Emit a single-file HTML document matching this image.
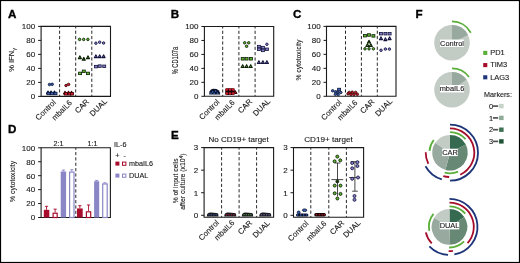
<!DOCTYPE html>
<html><head><meta charset="utf-8"><style>
html,body{margin:0;padding:0;background:#fff;}
body{width:520px;height:263px;overflow:hidden;}
svg{display:block;will-change:transform;}
svg text{font-family:"Liberation Sans", sans-serif;}
</style></head><body>
<svg width="520" height="263" viewBox="0 0 520 263">
<rect x="0" y="0" width="520" height="263" fill="#fff"/>
<text x="8.00" y="18.00" font-size="11.6" text-anchor="start" font-weight="bold" fill="#000" stroke="#000" stroke-width="0.35">A</text>
<path d="M41.1 26.4H110.5V96.4H41.1Z" fill="none" stroke="#1a1a1a" stroke-width="1.1"/>
<line x1="59.6" y1="26.4" x2="59.6" y2="96.4" stroke="#2a2a2a" stroke-width="1" stroke-dasharray="3.2 2.14" stroke-dashoffset="1.14"/>
<line x1="75.7" y1="26.4" x2="75.7" y2="96.4" stroke="#2a2a2a" stroke-width="1" stroke-dasharray="3.2 2.14" stroke-dashoffset="1.14"/>
<line x1="91.8" y1="26.4" x2="91.8" y2="96.4" stroke="#2a2a2a" stroke-width="1" stroke-dasharray="3.2 2.14" stroke-dashoffset="1.14"/>
<line x1="38.1" y1="96.40" x2="41.1" y2="96.40" stroke="#1a1a1a" stroke-width="1"/>
<text x="35.20" y="99.25" font-size="8" text-anchor="end" font-weight="normal" fill="#1a1a1a" stroke="#1a1a1a" stroke-width="0.12">0</text>
<line x1="38.1" y1="82.40" x2="41.1" y2="82.40" stroke="#1a1a1a" stroke-width="1"/>
<text x="35.20" y="85.25" font-size="8" text-anchor="end" font-weight="normal" fill="#1a1a1a" stroke="#1a1a1a" stroke-width="0.12">20</text>
<line x1="38.1" y1="68.40" x2="41.1" y2="68.40" stroke="#1a1a1a" stroke-width="1"/>
<text x="35.20" y="71.25" font-size="8" text-anchor="end" font-weight="normal" fill="#1a1a1a" stroke="#1a1a1a" stroke-width="0.12">40</text>
<line x1="38.1" y1="54.40" x2="41.1" y2="54.40" stroke="#1a1a1a" stroke-width="1"/>
<text x="35.20" y="57.25" font-size="8" text-anchor="end" font-weight="normal" fill="#1a1a1a" stroke="#1a1a1a" stroke-width="0.12">60</text>
<line x1="38.1" y1="40.40" x2="41.1" y2="40.40" stroke="#1a1a1a" stroke-width="1"/>
<text x="35.20" y="43.25" font-size="8" text-anchor="end" font-weight="normal" fill="#1a1a1a" stroke="#1a1a1a" stroke-width="0.12">80</text>
<line x1="38.1" y1="26.40" x2="41.1" y2="26.40" stroke="#1a1a1a" stroke-width="1"/>
<text x="35.20" y="29.25" font-size="8" text-anchor="end" font-weight="normal" fill="#1a1a1a" stroke="#1a1a1a" stroke-width="0.12">100</text>
<text x="14.40" y="59.80" font-size="7.5" text-anchor="middle" font-weight="normal" fill="#1a1a1a" stroke="#1a1a1a" stroke-width="0.12" transform="rotate(-90 14.40 59.80)">% IFN<tspan font-size="5.8" dy="1.4">γ</tspan></text>
<text x="56.40" y="102.90" font-size="7.8" text-anchor="end" font-weight="normal" fill="#1a1a1a" stroke="#1a1a1a" stroke-width="0.12" transform="rotate(-45 56.40 102.90)">Control</text>
<text x="72.50" y="103.40" font-size="7.8" text-anchor="end" font-weight="normal" fill="#1a1a1a" stroke="#1a1a1a" stroke-width="0.12" transform="rotate(-45 72.50 103.40)" textLength="24.6" lengthAdjust="spacingAndGlyphs">mbaIL6</text>
<text x="89.55" y="102.20" font-size="7.8" text-anchor="end" font-weight="normal" fill="#1a1a1a" stroke="#1a1a1a" stroke-width="0.12" transform="rotate(-45 89.55 102.20)">CAR</text>
<text x="107.55" y="101.95" font-size="7.8" text-anchor="end" font-weight="normal" fill="#1a1a1a" stroke="#1a1a1a" stroke-width="0.12" transform="rotate(-45 107.55 101.95)">DUAL</text>
<circle cx="49.50" cy="84.50" r="1.25" fill="#3a62b0" stroke="#0a1438" stroke-width="0.85"/>
<circle cx="52.20" cy="84.30" r="1.25" fill="#3a62b0" stroke="#0a1438" stroke-width="0.85"/>
<path d="M48.00 91.05L49.55 93.84L46.45 93.84Z" fill="#3a62b0" stroke="#0a1438" stroke-width="1.05" stroke-linejoin="round"/>
<path d="M51.00 91.05L52.55 93.84L49.45 93.84Z" fill="#3a62b0" stroke="#0a1438" stroke-width="1.05" stroke-linejoin="round"/>
<path d="M54.50 91.05L56.05 93.84L52.95 93.84Z" fill="#3a62b0" stroke="#0a1438" stroke-width="1.05" stroke-linejoin="round"/>
<rect x="47.00" y="92.25" width="3.0" height="2.5" fill="#3a62b0" stroke="#0a1438" stroke-width="0.8"/>
<rect x="50.50" y="92.25" width="3.0" height="2.5" fill="#3a62b0" stroke="#0a1438" stroke-width="0.8"/>
<rect x="54.00" y="92.25" width="3.0" height="2.5" fill="#3a62b0" stroke="#0a1438" stroke-width="0.8"/>
<circle cx="66.00" cy="85.50" r="1.25" fill="#d01c2c" stroke="#3a0206" stroke-width="0.85"/>
<circle cx="68.60" cy="84.40" r="1.25" fill="#d01c2c" stroke="#3a0206" stroke-width="0.85"/>
<path d="M65.00 91.25L66.55 94.04L63.45 94.04Z" fill="#d01c2c" stroke="#3a0206" stroke-width="1.05" stroke-linejoin="round"/>
<path d="M68.50 91.25L70.05 94.04L66.95 94.04Z" fill="#d01c2c" stroke="#3a0206" stroke-width="1.05" stroke-linejoin="round"/>
<path d="M71.50 91.25L73.05 94.04L69.95 94.04Z" fill="#d01c2c" stroke="#3a0206" stroke-width="1.05" stroke-linejoin="round"/>
<rect x="64.50" y="92.55" width="3.0" height="2.5" fill="#d01c2c" stroke="#3a0206" stroke-width="0.8"/>
<rect x="68.00" y="92.55" width="3.0" height="2.5" fill="#d01c2c" stroke="#3a0206" stroke-width="0.8"/>
<rect x="70.50" y="92.55" width="3.0" height="2.5" fill="#d01c2c" stroke="#3a0206" stroke-width="0.8"/>
<circle cx="79.60" cy="39.40" r="1.25" fill="#5cb82c" stroke="#0c1c06" stroke-width="0.85"/>
<circle cx="83.70" cy="39.40" r="1.25" fill="#5cb82c" stroke="#0c1c06" stroke-width="0.85"/>
<circle cx="87.90" cy="39.40" r="1.25" fill="#5cb82c" stroke="#0c1c06" stroke-width="0.85"/>
<path d="M79.90 55.85L81.45 58.64L78.35 58.64Z" fill="#5cb82c" stroke="#0c1c06" stroke-width="1.05" stroke-linejoin="round"/>
<path d="M83.80 57.35L85.35 60.14L82.25 60.14Z" fill="#5cb82c" stroke="#0c1c06" stroke-width="1.05" stroke-linejoin="round"/>
<path d="M88.00 55.85L89.55 58.64L86.45 58.64Z" fill="#5cb82c" stroke="#0c1c06" stroke-width="1.05" stroke-linejoin="round"/>
<rect x="78.60" y="72.15" width="3.0" height="2.5" fill="#5cb82c" stroke="#0c1c06" stroke-width="0.8"/>
<rect x="82.30" y="70.05" width="3.0" height="2.5" fill="#5cb82c" stroke="#0c1c06" stroke-width="0.8"/>
<rect x="86.50" y="72.15" width="3.0" height="2.5" fill="#5cb82c" stroke="#0c1c06" stroke-width="0.8"/>
<circle cx="95.90" cy="43.20" r="1.25" fill="#8680cc" stroke="#12123a" stroke-width="0.85"/>
<circle cx="99.70" cy="42.20" r="1.25" fill="#8680cc" stroke="#12123a" stroke-width="0.85"/>
<circle cx="103.60" cy="43.00" r="1.25" fill="#8680cc" stroke="#12123a" stroke-width="0.85"/>
<path d="M95.90 54.85L97.45 57.64L94.35 57.64Z" fill="#8680cc" stroke="#12123a" stroke-width="1.05" stroke-linejoin="round"/>
<path d="M99.70 54.85L101.25 57.64L98.15 57.64Z" fill="#8680cc" stroke="#12123a" stroke-width="1.05" stroke-linejoin="round"/>
<path d="M103.60 54.85L105.15 57.64L102.05 57.64Z" fill="#8680cc" stroke="#12123a" stroke-width="1.05" stroke-linejoin="round"/>
<rect x="94.50" y="65.35" width="3.0" height="2.5" fill="#8680cc" stroke="#12123a" stroke-width="0.8"/>
<rect x="98.20" y="64.85" width="3.0" height="2.5" fill="#8680cc" stroke="#12123a" stroke-width="0.8"/>
<rect x="102.70" y="65.05" width="3.0" height="2.5" fill="#8680cc" stroke="#12123a" stroke-width="0.8"/>
<text x="170.70" y="18.00" font-size="11.6" text-anchor="start" font-weight="bold" fill="#000" stroke="#000" stroke-width="0.35">B</text>
<path d="M204.4 26.5H273.7V96.3H204.4Z" fill="none" stroke="#1a1a1a" stroke-width="1.1"/>
<line x1="222.7" y1="26.5" x2="222.7" y2="96.3" stroke="#2a2a2a" stroke-width="1" stroke-dasharray="3.2 2.14" stroke-dashoffset="1.14"/>
<line x1="238.9" y1="26.5" x2="238.9" y2="96.3" stroke="#2a2a2a" stroke-width="1" stroke-dasharray="3.2 2.14" stroke-dashoffset="1.14"/>
<line x1="255.1" y1="26.5" x2="255.1" y2="96.3" stroke="#2a2a2a" stroke-width="1" stroke-dasharray="3.2 2.14" stroke-dashoffset="1.14"/>
<line x1="201.4" y1="96.30" x2="204.4" y2="96.30" stroke="#1a1a1a" stroke-width="1"/>
<text x="198.50" y="99.15" font-size="8" text-anchor="end" font-weight="normal" fill="#1a1a1a" stroke="#1a1a1a" stroke-width="0.12">0</text>
<line x1="201.4" y1="82.34" x2="204.4" y2="82.34" stroke="#1a1a1a" stroke-width="1"/>
<text x="198.50" y="85.19" font-size="8" text-anchor="end" font-weight="normal" fill="#1a1a1a" stroke="#1a1a1a" stroke-width="0.12">20</text>
<line x1="201.4" y1="68.38" x2="204.4" y2="68.38" stroke="#1a1a1a" stroke-width="1"/>
<text x="198.50" y="71.23" font-size="8" text-anchor="end" font-weight="normal" fill="#1a1a1a" stroke="#1a1a1a" stroke-width="0.12">40</text>
<line x1="201.4" y1="54.42" x2="204.4" y2="54.42" stroke="#1a1a1a" stroke-width="1"/>
<text x="198.50" y="57.27" font-size="8" text-anchor="end" font-weight="normal" fill="#1a1a1a" stroke="#1a1a1a" stroke-width="0.12">60</text>
<line x1="201.4" y1="40.46" x2="204.4" y2="40.46" stroke="#1a1a1a" stroke-width="1"/>
<text x="198.50" y="43.31" font-size="8" text-anchor="end" font-weight="normal" fill="#1a1a1a" stroke="#1a1a1a" stroke-width="0.12">80</text>
<line x1="201.4" y1="26.50" x2="204.4" y2="26.50" stroke="#1a1a1a" stroke-width="1"/>
<text x="198.50" y="29.35" font-size="8" text-anchor="end" font-weight="normal" fill="#1a1a1a" stroke="#1a1a1a" stroke-width="0.12">100</text>
<text x="177.90" y="60.60" font-size="8.2" text-anchor="middle" font-weight="normal" fill="#1a1a1a" stroke="#1a1a1a" stroke-width="0.12" transform="rotate(-90 177.90 60.60)" textLength="27.5" lengthAdjust="spacingAndGlyphs">% CD107a</text>
<text x="220.00" y="102.55" font-size="7.8" text-anchor="end" font-weight="normal" fill="#1a1a1a" stroke="#1a1a1a" stroke-width="0.12" transform="rotate(-45 220.00 102.55)">Control</text>
<text x="235.20" y="103.10" font-size="7.8" text-anchor="end" font-weight="normal" fill="#1a1a1a" stroke="#1a1a1a" stroke-width="0.12" transform="rotate(-45 235.20 103.10)" textLength="24.6" lengthAdjust="spacingAndGlyphs">mbaIL6</text>
<text x="252.70" y="102.05" font-size="7.8" text-anchor="end" font-weight="normal" fill="#1a1a1a" stroke="#1a1a1a" stroke-width="0.12" transform="rotate(-45 252.70 102.05)">CAR</text>
<text x="270.80" y="101.80" font-size="7.8" text-anchor="end" font-weight="normal" fill="#1a1a1a" stroke="#1a1a1a" stroke-width="0.12" transform="rotate(-45 270.80 101.80)">DUAL</text>
<path d="M209.2 94.4L209.5 91.5L211 89.6L213 88.7L216.5 88.9L218.5 90.3L220 92.5L220.2 94.4Z" fill="#08102a"/>
<circle cx="212.6" cy="91.8" r="0.85" fill="#3a62b0"/>
<circle cx="215.6" cy="91.0" r="0.85" fill="#3a62b0"/>
<circle cx="211" cy="93.3" r="0.85" fill="#3a62b0"/>
<circle cx="214.2" cy="93.4" r="0.85" fill="#3a62b0"/>
<circle cx="217.6" cy="93.1" r="0.85" fill="#3a62b0"/>
<rect x="225.2" y="88.3" width="9.6" height="6.8" rx="1.4" fill="#1c0406"/>
<path d="M235.30 90.75L236.85 93.54L233.75 93.54Z" fill="#d01c2c" stroke="#3a0206" stroke-width="1.05" stroke-linejoin="round"/>
<circle cx="226.8" cy="89.5" r="1.25" fill="#d01c2c"/>
<circle cx="226.8" cy="93.6" r="1.25" fill="#d01c2c"/>
<circle cx="230.0" cy="89.5" r="1.25" fill="#d01c2c"/>
<circle cx="230.0" cy="93.6" r="1.25" fill="#d01c2c"/>
<circle cx="233.1" cy="89.5" r="1.25" fill="#d01c2c"/>
<circle cx="233.1" cy="93.6" r="1.25" fill="#d01c2c"/>
<circle cx="244.70" cy="42.80" r="1.25" fill="#5cb82c" stroke="#0c1c06" stroke-width="0.85"/>
<circle cx="248.70" cy="42.80" r="1.25" fill="#5cb82c" stroke="#0c1c06" stroke-width="0.85"/>
<circle cx="246.60" cy="46.30" r="1.25" fill="#5cb82c" stroke="#0c1c06" stroke-width="0.85"/>
<rect x="241.20" y="57.55" width="3.0" height="2.5" fill="#5cb82c" stroke="#0c1c06" stroke-width="0.8"/>
<rect x="245.10" y="57.55" width="3.0" height="2.5" fill="#5cb82c" stroke="#0c1c06" stroke-width="0.8"/>
<rect x="249.40" y="57.55" width="3.0" height="2.5" fill="#5cb82c" stroke="#0c1c06" stroke-width="0.8"/>
<path d="M242.70 64.65L244.25 67.44L241.15 67.44Z" fill="#5cb82c" stroke="#0c1c06" stroke-width="1.05" stroke-linejoin="round"/>
<path d="M246.60 64.65L248.15 67.44L245.05 67.44Z" fill="#5cb82c" stroke="#0c1c06" stroke-width="1.05" stroke-linejoin="round"/>
<path d="M250.70 64.65L252.25 67.44L249.15 67.44Z" fill="#5cb82c" stroke="#0c1c06" stroke-width="1.05" stroke-linejoin="round"/>
<circle cx="266.90" cy="44.30" r="1.25" fill="#8680cc" stroke="#12123a" stroke-width="0.85"/>
<rect x="257.40" y="45.35" width="3.0" height="2.5" fill="#8680cc" stroke="#12123a" stroke-width="0.8"/>
<rect x="261.40" y="46.35" width="3.0" height="2.5" fill="#8680cc" stroke="#12123a" stroke-width="0.8"/>
<rect x="265.40" y="48.05" width="3.0" height="2.5" fill="#8680cc" stroke="#12123a" stroke-width="0.8"/>
<rect x="257.40" y="48.05" width="3.0" height="2.5" fill="#8680cc" stroke="#12123a" stroke-width="0.8"/>
<rect x="261.40" y="49.15" width="3.0" height="2.5" fill="#8680cc" stroke="#12123a" stroke-width="0.8"/>
<path d="M258.90 60.65L260.45 63.44L257.35 63.44Z" fill="#8680cc" stroke="#12123a" stroke-width="1.05" stroke-linejoin="round"/>
<path d="M262.90 60.65L264.45 63.44L261.35 63.44Z" fill="#8680cc" stroke="#12123a" stroke-width="1.05" stroke-linejoin="round"/>
<path d="M266.90 60.65L268.45 63.44L265.35 63.44Z" fill="#8680cc" stroke="#12123a" stroke-width="1.05" stroke-linejoin="round"/>
<text x="293.00" y="18.00" font-size="11.6" text-anchor="start" font-weight="bold" fill="#000" stroke="#000" stroke-width="0.35">C</text>
<path d="M326.5 26.4H396V96.3H326.5Z" fill="none" stroke="#1a1a1a" stroke-width="1.1"/>
<line x1="345.5" y1="26.4" x2="345.5" y2="96.3" stroke="#2a2a2a" stroke-width="1" stroke-dasharray="3.2 2.14" stroke-dashoffset="1.14"/>
<line x1="361.4" y1="26.4" x2="361.4" y2="96.3" stroke="#2a2a2a" stroke-width="1" stroke-dasharray="3.2 2.14" stroke-dashoffset="1.14"/>
<line x1="377.3" y1="26.4" x2="377.3" y2="96.3" stroke="#2a2a2a" stroke-width="1" stroke-dasharray="3.2 2.14" stroke-dashoffset="1.14"/>
<line x1="323.5" y1="96.30" x2="326.5" y2="96.30" stroke="#1a1a1a" stroke-width="1"/>
<text x="320.60" y="99.15" font-size="8" text-anchor="end" font-weight="normal" fill="#1a1a1a" stroke="#1a1a1a" stroke-width="0.12">0</text>
<line x1="323.5" y1="82.32" x2="326.5" y2="82.32" stroke="#1a1a1a" stroke-width="1"/>
<text x="320.60" y="85.17" font-size="8" text-anchor="end" font-weight="normal" fill="#1a1a1a" stroke="#1a1a1a" stroke-width="0.12">20</text>
<line x1="323.5" y1="68.34" x2="326.5" y2="68.34" stroke="#1a1a1a" stroke-width="1"/>
<text x="320.60" y="71.19" font-size="8" text-anchor="end" font-weight="normal" fill="#1a1a1a" stroke="#1a1a1a" stroke-width="0.12">40</text>
<line x1="323.5" y1="54.36" x2="326.5" y2="54.36" stroke="#1a1a1a" stroke-width="1"/>
<text x="320.60" y="57.21" font-size="8" text-anchor="end" font-weight="normal" fill="#1a1a1a" stroke="#1a1a1a" stroke-width="0.12">60</text>
<line x1="323.5" y1="40.38" x2="326.5" y2="40.38" stroke="#1a1a1a" stroke-width="1"/>
<text x="320.60" y="43.23" font-size="8" text-anchor="end" font-weight="normal" fill="#1a1a1a" stroke="#1a1a1a" stroke-width="0.12">80</text>
<line x1="323.5" y1="26.40" x2="326.5" y2="26.40" stroke="#1a1a1a" stroke-width="1"/>
<text x="320.60" y="29.25" font-size="8" text-anchor="end" font-weight="normal" fill="#1a1a1a" stroke="#1a1a1a" stroke-width="0.12">100</text>
<text x="300.60" y="60.10" font-size="7.7" text-anchor="middle" font-weight="normal" fill="#1a1a1a" stroke="#1a1a1a" stroke-width="0.12" transform="rotate(-90 300.60 60.10)" textLength="41" lengthAdjust="spacingAndGlyphs">% cytotoxicity</text>
<text x="342.00" y="102.95" font-size="7.8" text-anchor="end" font-weight="normal" fill="#1a1a1a" stroke="#1a1a1a" stroke-width="0.12" transform="rotate(-45 342.00 102.95)">Control</text>
<text x="358.00" y="103.30" font-size="7.8" text-anchor="end" font-weight="normal" fill="#1a1a1a" stroke="#1a1a1a" stroke-width="0.12" transform="rotate(-45 358.00 103.30)" textLength="24.6" lengthAdjust="spacingAndGlyphs">mbaIL6</text>
<text x="375.00" y="102.25" font-size="7.8" text-anchor="end" font-weight="normal" fill="#1a1a1a" stroke="#1a1a1a" stroke-width="0.12" transform="rotate(-45 375.00 102.25)">CAR</text>
<text x="392.85" y="102.00" font-size="7.8" text-anchor="end" font-weight="normal" fill="#1a1a1a" stroke="#1a1a1a" stroke-width="0.12" transform="rotate(-45 392.85 102.00)">DUAL</text>
<rect x="337.60" y="88.25" width="3.0" height="2.5" fill="#3a62b0" stroke="#0a1438" stroke-width="0.8"/>
<circle cx="332.70" cy="90.80" r="1.25" fill="#3a62b0" stroke="#0a1438" stroke-width="0.85"/>
<circle cx="335.70" cy="91.80" r="1.25" fill="#3a62b0" stroke="#0a1438" stroke-width="0.85"/>
<circle cx="338.10" cy="92.30" r="1.25" fill="#3a62b0" stroke="#0a1438" stroke-width="0.85"/>
<circle cx="340.80" cy="92.50" r="1.25" fill="#3a62b0" stroke="#0a1438" stroke-width="0.85"/>
<circle cx="335.40" cy="94.20" r="1.25" fill="#3a62b0" stroke="#0a1438" stroke-width="0.85"/>
<circle cx="338.20" cy="94.50" r="1.25" fill="#3a62b0" stroke="#0a1438" stroke-width="0.85"/>
<circle cx="349.20" cy="92.40" r="1.25" fill="#d01c2c" stroke="#3a0206" stroke-width="0.85"/>
<circle cx="352.20" cy="92.20" r="1.25" fill="#d01c2c" stroke="#3a0206" stroke-width="0.85"/>
<circle cx="355.60" cy="92.40" r="1.25" fill="#d01c2c" stroke="#3a0206" stroke-width="0.85"/>
<circle cx="350.90" cy="94.50" r="1.25" fill="#d01c2c" stroke="#3a0206" stroke-width="0.85"/>
<circle cx="353.90" cy="94.60" r="1.25" fill="#d01c2c" stroke="#3a0206" stroke-width="0.85"/>
<circle cx="357.30" cy="94.30" r="1.25" fill="#d01c2c" stroke="#3a0206" stroke-width="0.85"/>
<circle cx="348.00" cy="93.80" r="1.25" fill="#d01c2c" stroke="#3a0206" stroke-width="0.85"/>
<rect x="363.50" y="34.45" width="3.0" height="2.5" fill="#5cb82c" stroke="#0c1c06" stroke-width="0.8"/>
<rect x="367.50" y="33.75" width="3.0" height="2.5" fill="#5cb82c" stroke="#0c1c06" stroke-width="0.8"/>
<rect x="371.90" y="34.65" width="3.0" height="2.5" fill="#5cb82c" stroke="#0c1c06" stroke-width="0.8"/>
<path d="M369.00 40.25L370.55 43.04L367.45 43.04Z" fill="#5cb82c" stroke="#0c1c06" stroke-width="1.05" stroke-linejoin="round"/>
<path d="M367.40 43.65L368.95 46.44L365.85 46.44Z" fill="#5cb82c" stroke="#0c1c06" stroke-width="1.05" stroke-linejoin="round"/>
<path d="M370.80 43.65L372.35 46.44L369.25 46.44Z" fill="#5cb82c" stroke="#0c1c06" stroke-width="1.05" stroke-linejoin="round"/>
<circle cx="365.00" cy="48.80" r="1.25" fill="#5cb82c" stroke="#0c1c06" stroke-width="0.85"/>
<circle cx="369.00" cy="48.80" r="1.25" fill="#5cb82c" stroke="#0c1c06" stroke-width="0.85"/>
<circle cx="373.40" cy="48.80" r="1.25" fill="#5cb82c" stroke="#0c1c06" stroke-width="0.85"/>
<rect x="379.50" y="32.45" width="3.0" height="2.5" fill="#8680cc" stroke="#12123a" stroke-width="0.8"/>
<rect x="383.90" y="32.45" width="3.0" height="2.5" fill="#8680cc" stroke="#12123a" stroke-width="0.8"/>
<rect x="388.10" y="32.45" width="3.0" height="2.5" fill="#8680cc" stroke="#12123a" stroke-width="0.8"/>
<path d="M381.00 36.85L382.55 39.64L379.45 39.64Z" fill="#8680cc" stroke="#12123a" stroke-width="1.05" stroke-linejoin="round"/>
<path d="M385.40 37.85L386.95 40.64L383.85 40.64Z" fill="#8680cc" stroke="#12123a" stroke-width="1.05" stroke-linejoin="round"/>
<path d="M389.60 36.85L391.15 39.64L388.05 39.64Z" fill="#8680cc" stroke="#12123a" stroke-width="1.05" stroke-linejoin="round"/>
<circle cx="381.00" cy="50.30" r="1.25" fill="#8680cc" stroke="#12123a" stroke-width="0.85"/>
<circle cx="385.40" cy="49.10" r="1.25" fill="#8680cc" stroke="#12123a" stroke-width="0.85"/>
<circle cx="389.40" cy="49.10" r="1.25" fill="#8680cc" stroke="#12123a" stroke-width="0.85"/>
<text x="8.00" y="133.30" font-size="11.6" text-anchor="start" font-weight="bold" fill="#000" stroke="#000" stroke-width="0.35">D</text>
<path d="M41.1 147.8H110.4V217.5H41.1Z" fill="none" stroke="#1a1a1a" stroke-width="1.1"/>
<line x1="75.8" y1="147.8" x2="75.8" y2="217.5" stroke="#2a2a2a" stroke-width="1" stroke-dasharray="3.2 2.14" stroke-dashoffset="1.14"/>
<line x1="38.1" y1="217.50" x2="41.1" y2="217.50" stroke="#1a1a1a" stroke-width="1"/>
<text x="35.20" y="220.35" font-size="8" text-anchor="end" font-weight="normal" fill="#1a1a1a" stroke="#1a1a1a" stroke-width="0.12">0</text>
<line x1="38.1" y1="203.56" x2="41.1" y2="203.56" stroke="#1a1a1a" stroke-width="1"/>
<text x="35.20" y="206.41" font-size="8" text-anchor="end" font-weight="normal" fill="#1a1a1a" stroke="#1a1a1a" stroke-width="0.12">20</text>
<line x1="38.1" y1="189.62" x2="41.1" y2="189.62" stroke="#1a1a1a" stroke-width="1"/>
<text x="35.20" y="192.47" font-size="8" text-anchor="end" font-weight="normal" fill="#1a1a1a" stroke="#1a1a1a" stroke-width="0.12">40</text>
<line x1="38.1" y1="175.68" x2="41.1" y2="175.68" stroke="#1a1a1a" stroke-width="1"/>
<text x="35.20" y="178.53" font-size="8" text-anchor="end" font-weight="normal" fill="#1a1a1a" stroke="#1a1a1a" stroke-width="0.12">60</text>
<line x1="38.1" y1="161.74" x2="41.1" y2="161.74" stroke="#1a1a1a" stroke-width="1"/>
<text x="35.20" y="164.59" font-size="8" text-anchor="end" font-weight="normal" fill="#1a1a1a" stroke="#1a1a1a" stroke-width="0.12">80</text>
<line x1="38.1" y1="147.80" x2="41.1" y2="147.80" stroke="#1a1a1a" stroke-width="1"/>
<text x="35.20" y="150.65" font-size="8" text-anchor="end" font-weight="normal" fill="#1a1a1a" stroke="#1a1a1a" stroke-width="0.12">100</text>
<text x="15.30" y="181.40" font-size="7.7" text-anchor="middle" font-weight="normal" fill="#1a1a1a" stroke="#1a1a1a" stroke-width="0.12" transform="rotate(-90 15.30 181.40)" textLength="41" lengthAdjust="spacingAndGlyphs">% cytotoxicity</text>
<text x="58.50" y="145.80" font-size="7.2" text-anchor="middle" font-weight="normal" fill="#1a1a1a" stroke="#1a1a1a" stroke-width="0.12">2:1</text>
<text x="92.50" y="145.80" font-size="7.2" text-anchor="middle" font-weight="normal" fill="#1a1a1a" stroke="#1a1a1a" stroke-width="0.12">1:1</text>
<rect x="43.8" y="209.83" width="5.5" height="7.67" fill="#a80c2c"/>
<path d="M46.55 209.83V206.35M44.949999999999996 206.35H48.15" stroke="#a80c2c" stroke-width="0.9" fill="none"/>
<rect x="53.1" y="213.22" width="4.099999999999997" height="4.28" fill="#fff" stroke="#a80c2c" stroke-width="1.2"/>
<path d="M55.15 212.62V209.14M53.55 209.14H56.75" stroke="#a80c2c" stroke-width="0.9" fill="none"/>
<rect x="60.7" y="171.50" width="5.3999999999999915" height="46.00" fill="#8a86c6"/>
<path d="M63.4 171.50V170.10M61.8 170.10H65.0" stroke="#8a86c6" stroke-width="0.9" fill="none"/>
<rect x="69.6" y="172.10" width="4.399999999999994" height="45.40" fill="#fff" stroke="#8a86c6" stroke-width="1.2"/>
<path d="M71.8 171.50V169.76M70.2 169.76H73.39999999999999" stroke="#8a86c6" stroke-width="0.9" fill="none"/>
<rect x="77" y="208.44" width="5.700000000000003" height="9.06" fill="#a80c2c"/>
<path d="M79.85 208.44V205.65M78.25 205.65H81.44999999999999" stroke="#a80c2c" stroke-width="0.9" fill="none"/>
<rect x="86.39999999999999" y="211.83" width="4.3" height="5.67" fill="#fff" stroke="#a80c2c" stroke-width="1.2"/>
<path d="M88.55 211.23V204.95M86.95 204.95H90.14999999999999" stroke="#a80c2c" stroke-width="0.9" fill="none"/>
<rect x="94.1" y="181.26" width="5.1000000000000085" height="36.24" fill="#8a86c6"/>
<path d="M96.65 181.26V180.42M95.05000000000001 180.42H98.25" stroke="#8a86c6" stroke-width="0.9" fill="none"/>
<rect x="102.69999999999999" y="183.95" width="4.500000000000003" height="33.55" fill="#fff" stroke="#8a86c6" stroke-width="1.2"/>
<path d="M104.94999999999999 183.35V182.79M103.35 182.79H106.54999999999998" stroke="#8a86c6" stroke-width="0.9" fill="none"/>
<text x="114.00" y="147.30" font-size="7.2" text-anchor="start" font-weight="normal" fill="#1a1a1a" stroke="#1a1a1a" stroke-width="0.12">IL-6</text>
<text x="115.20" y="157.50" font-size="7.2" text-anchor="start" font-weight="normal" fill="#1a1a1a" stroke="#1a1a1a" stroke-width="0.12">+</text>
<text x="123.60" y="157.50" font-size="7.2" text-anchor="start" font-weight="normal" fill="#1a1a1a" stroke="#1a1a1a" stroke-width="0.12">-</text>
<rect x="115.4" y="161.6" width="4" height="4" fill="#a80c2c"/>
<rect x="122.5" y="162.1" width="3.4" height="3.2" fill="#fff" stroke="#a80c2c" stroke-width="1"/>
<text x="129.00" y="166.00" font-size="7.2" text-anchor="start" font-weight="normal" fill="#1a1a1a" stroke="#1a1a1a" stroke-width="0.12">mbaIL6</text>
<rect x="115.4" y="173.6" width="4" height="4" fill="#8a86c6"/>
<rect x="122.5" y="174.1" width="3.4" height="3.2" fill="#fff" stroke="#8a86c6" stroke-width="1"/>
<text x="129.00" y="178.00" font-size="7.2" text-anchor="start" font-weight="normal" fill="#1a1a1a" stroke="#1a1a1a" stroke-width="0.12">DUAL</text>
<text x="171.00" y="138.70" font-size="11.6" text-anchor="start" font-weight="bold" fill="#000" stroke="#000" stroke-width="0.35">E</text>
<path d="M204.1 147.6H273.6V217.3H204.1Z" fill="none" stroke="#1a1a1a" stroke-width="1.1"/>
<line x1="221.6" y1="147.6" x2="221.6" y2="217.3" stroke="#2a2a2a" stroke-width="1" stroke-dasharray="3.2 2.14" stroke-dashoffset="1.14"/>
<line x1="239.1" y1="147.6" x2="239.1" y2="217.3" stroke="#2a2a2a" stroke-width="1" stroke-dasharray="3.2 2.14" stroke-dashoffset="1.14"/>
<line x1="256.6" y1="147.6" x2="256.6" y2="217.3" stroke="#2a2a2a" stroke-width="1" stroke-dasharray="3.2 2.14" stroke-dashoffset="1.14"/>
<line x1="201.1" y1="215.30" x2="204.1" y2="215.30" stroke="#1a1a1a" stroke-width="1"/>
<text x="198.20" y="218.15" font-size="8" text-anchor="end" font-weight="normal" fill="#1a1a1a" stroke="#1a1a1a" stroke-width="0.12">0</text>
<line x1="201.1" y1="192.73" x2="204.1" y2="192.73" stroke="#1a1a1a" stroke-width="1"/>
<text x="198.20" y="195.58" font-size="8" text-anchor="end" font-weight="normal" fill="#1a1a1a" stroke="#1a1a1a" stroke-width="0.12">1</text>
<line x1="201.1" y1="170.17" x2="204.1" y2="170.17" stroke="#1a1a1a" stroke-width="1"/>
<text x="198.20" y="173.02" font-size="8" text-anchor="end" font-weight="normal" fill="#1a1a1a" stroke="#1a1a1a" stroke-width="0.12">2</text>
<line x1="201.1" y1="147.60" x2="204.1" y2="147.60" stroke="#1a1a1a" stroke-width="1"/>
<text x="198.20" y="150.45" font-size="8" text-anchor="end" font-weight="normal" fill="#1a1a1a" stroke="#1a1a1a" stroke-width="0.12">3</text>
<text x="238.70" y="142.30" font-size="8.1" text-anchor="middle" font-weight="normal" fill="#1a1a1a" stroke="#1a1a1a" stroke-width="0.12" textLength="60.2" lengthAdjust="spacingAndGlyphs">No CD19+ target</text>
<text x="219.45" y="223.20" font-size="7.8" text-anchor="end" font-weight="normal" fill="#1a1a1a" stroke="#1a1a1a" stroke-width="0.12" transform="rotate(-45 219.45 223.20)">Control</text>
<text x="234.80" y="223.40" font-size="7.8" text-anchor="end" font-weight="normal" fill="#1a1a1a" stroke="#1a1a1a" stroke-width="0.12" transform="rotate(-45 234.80 223.40)" textLength="24.6" lengthAdjust="spacingAndGlyphs">mbaIL6</text>
<text x="252.65" y="223.45" font-size="7.8" text-anchor="end" font-weight="normal" fill="#1a1a1a" stroke="#1a1a1a" stroke-width="0.12" transform="rotate(-45 252.65 223.45)">CAR</text>
<text x="270.40" y="223.65" font-size="7.8" text-anchor="end" font-weight="normal" fill="#1a1a1a" stroke="#1a1a1a" stroke-width="0.12" transform="rotate(-45 270.40 223.65)">DUAL</text>
<path d="M293.5 147.6H363.6V217.3H293.5Z" fill="none" stroke="#1a1a1a" stroke-width="1.1"/>
<line x1="310.8" y1="147.6" x2="310.8" y2="217.3" stroke="#2a2a2a" stroke-width="1" stroke-dasharray="3.2 2.14" stroke-dashoffset="1.14"/>
<line x1="328.8" y1="147.6" x2="328.8" y2="217.3" stroke="#2a2a2a" stroke-width="1" stroke-dasharray="3.2 2.14" stroke-dashoffset="1.14"/>
<line x1="346.4" y1="147.6" x2="346.4" y2="217.3" stroke="#2a2a2a" stroke-width="1" stroke-dasharray="3.2 2.14" stroke-dashoffset="1.14"/>
<line x1="290.5" y1="215.30" x2="293.5" y2="215.30" stroke="#1a1a1a" stroke-width="1"/>
<text x="287.60" y="218.15" font-size="8" text-anchor="end" font-weight="normal" fill="#1a1a1a" stroke="#1a1a1a" stroke-width="0.12">0</text>
<line x1="290.5" y1="192.73" x2="293.5" y2="192.73" stroke="#1a1a1a" stroke-width="1"/>
<text x="287.60" y="195.58" font-size="8" text-anchor="end" font-weight="normal" fill="#1a1a1a" stroke="#1a1a1a" stroke-width="0.12">1</text>
<line x1="290.5" y1="170.17" x2="293.5" y2="170.17" stroke="#1a1a1a" stroke-width="1"/>
<text x="287.60" y="173.02" font-size="8" text-anchor="end" font-weight="normal" fill="#1a1a1a" stroke="#1a1a1a" stroke-width="0.12">2</text>
<line x1="290.5" y1="147.60" x2="293.5" y2="147.60" stroke="#1a1a1a" stroke-width="1"/>
<text x="287.60" y="150.45" font-size="8" text-anchor="end" font-weight="normal" fill="#1a1a1a" stroke="#1a1a1a" stroke-width="0.12">3</text>
<text x="328.50" y="142.30" font-size="8.1" text-anchor="middle" font-weight="normal" fill="#1a1a1a" stroke="#1a1a1a" stroke-width="0.12" textLength="48.5" lengthAdjust="spacingAndGlyphs">CD19+ target</text>
<text x="308.90" y="224.05" font-size="7.8" text-anchor="end" font-weight="normal" fill="#1a1a1a" stroke="#1a1a1a" stroke-width="0.12" transform="rotate(-45 308.90 224.05)">Control</text>
<text x="326.80" y="224.00" font-size="7.8" text-anchor="end" font-weight="normal" fill="#1a1a1a" stroke="#1a1a1a" stroke-width="0.12" transform="rotate(-45 326.80 224.00)" textLength="24.6" lengthAdjust="spacingAndGlyphs">mbaIL6</text>
<text x="344.70" y="223.50" font-size="7.8" text-anchor="end" font-weight="normal" fill="#1a1a1a" stroke="#1a1a1a" stroke-width="0.12" transform="rotate(-45 344.70 223.50)">CAR</text>
<text x="361.05" y="223.40" font-size="7.8" text-anchor="end" font-weight="normal" fill="#1a1a1a" stroke="#1a1a1a" stroke-width="0.12" transform="rotate(-45 361.05 223.40)">DUAL</text>
<text x="177.80" y="180.80" font-size="6.8" text-anchor="middle" font-weight="normal" fill="#1a1a1a" stroke="#1a1a1a" stroke-width="0.12" transform="rotate(-90 177.80 180.80)" textLength="45" lengthAdjust="spacingAndGlyphs">% of input cells</text>
<text x="185.20" y="181.60" font-size="6.85" text-anchor="middle" font-weight="normal" fill="#1a1a1a" stroke="#1a1a1a" stroke-width="0.12" transform="rotate(-90 185.20 181.60)">after culture (x10<tspan font-size="4.6" dy="-2.6">4</tspan><tspan dy="2.6">)</tspan></text>
<path d="M206.8 216.4 C206.8 213.5 207.8 212.4 210.86 212.4 L216.40 213 C218.4 213.2 218.4 214 218.4 216.4 Z" fill="#1a1a22"/>
<circle cx="209.00" cy="214.7" r="0.75" fill="#3a62b0" opacity="0.7"/>
<circle cx="211.40" cy="214.7" r="0.75" fill="#3a62b0" opacity="0.7"/>
<circle cx="213.80" cy="214.7" r="0.75" fill="#3a62b0" opacity="0.7"/>
<circle cx="216.20" cy="214.7" r="0.75" fill="#3a62b0" opacity="0.7"/>
<path d="M224.3 216.4 C224.3 213.5 225.3 212.4 228.47 212.4 L234.20 213 C236.2 213.2 236.2 214 236.2 216.4 Z" fill="#1a1a22"/>
<circle cx="226.50" cy="214.7" r="0.75" fill="#d01c2c" opacity="0.7"/>
<circle cx="229.00" cy="214.7" r="0.75" fill="#d01c2c" opacity="0.7"/>
<circle cx="231.50" cy="214.7" r="0.75" fill="#d01c2c" opacity="0.7"/>
<circle cx="234.00" cy="214.7" r="0.75" fill="#d01c2c" opacity="0.7"/>
<path d="M241.8 216.4 C241.8 213.5 242.8 212.4 245.75 212.4 L251.10 213 C253.1 213.2 253.1 214 253.1 216.4 Z" fill="#1a1a22"/>
<circle cx="244.00" cy="214.7" r="0.75" fill="#5cb82c" opacity="0.7"/>
<circle cx="246.30" cy="214.7" r="0.75" fill="#5cb82c" opacity="0.7"/>
<circle cx="248.60" cy="214.7" r="0.75" fill="#5cb82c" opacity="0.7"/>
<circle cx="250.90" cy="214.7" r="0.75" fill="#5cb82c" opacity="0.7"/>
<path d="M259.3 216.4 C259.3 213.5 260.3 212.4 263.47 212.4 L269.20 213 C271.2 213.2 271.2 214 271.2 216.4 Z" fill="#1a1a22"/>
<circle cx="261.50" cy="214.7" r="0.75" fill="#8680cc" opacity="0.7"/>
<circle cx="264.00" cy="214.7" r="0.75" fill="#8680cc" opacity="0.7"/>
<circle cx="266.50" cy="214.7" r="0.75" fill="#8680cc" opacity="0.7"/>
<circle cx="269.00" cy="214.7" r="0.75" fill="#8680cc" opacity="0.7"/>
<rect x="296" y="213.4" width="12.4" height="3.1" rx="1.5" fill="#08102a"/>
<circle cx="297.6" cy="215" r="0.8" fill="#3a62b0"/>
<circle cx="300.6" cy="215" r="0.8" fill="#3a62b0"/>
<circle cx="303.6" cy="215" r="0.8" fill="#3a62b0"/>
<circle cx="306.6" cy="215" r="0.8" fill="#3a62b0"/>
<circle cx="298.70" cy="212.40" r="1.4" fill="#3a62b0" stroke="#0a1438" stroke-width="0.85"/>
<ellipse cx="304.6" cy="210.2" rx="2.2" ry="1.3" fill="#3a62b0" stroke="#0a1438" stroke-width="0.85"/>
<rect x="314.2" y="213.0" width="11.8" height="3.4" rx="1.7" fill="#1c0406"/>
<circle cx="316.5" cy="214.8" r="0.7" fill="#d01c2c" opacity="0.8"/>
<circle cx="319.3" cy="214.8" r="0.7" fill="#d01c2c" opacity="0.8"/>
<circle cx="322.1" cy="214.8" r="0.7" fill="#d01c2c" opacity="0.8"/>
<circle cx="324.3" cy="214.8" r="0.7" fill="#d01c2c" opacity="0.8"/>
<path d="M337.5 163V196.5M334.7 163H340.3M331.4 179.6H343.2" stroke="#333" stroke-width="0.9" fill="none"/>
<circle cx="337.30" cy="156.60" r="1.5" fill="#5cb82c" stroke="#0c1c06" stroke-width="0.85"/>
<circle cx="334.60" cy="161.30" r="1.5" fill="#5cb82c" stroke="#0c1c06" stroke-width="0.85"/>
<circle cx="340.30" cy="160.30" r="1.5" fill="#5cb82c" stroke="#0c1c06" stroke-width="0.85"/>
<circle cx="334.70" cy="185.60" r="1.5" fill="#5cb82c" stroke="#0c1c06" stroke-width="0.85"/>
<circle cx="340.50" cy="185.60" r="1.5" fill="#5cb82c" stroke="#0c1c06" stroke-width="0.85"/>
<circle cx="334.70" cy="193.30" r="1.5" fill="#5cb82c" stroke="#0c1c06" stroke-width="0.85"/>
<circle cx="340.50" cy="193.90" r="1.5" fill="#5cb82c" stroke="#0c1c06" stroke-width="0.85"/>
<circle cx="337.40" cy="198.50" r="1.5" fill="#5cb82c" stroke="#0c1c06" stroke-width="0.85"/>
<circle cx="337.3" cy="181.4" r="1.5" fill="#1a3a10" stroke="#0a1a05" stroke-width="0.7"/>
<circle cx="354.50" cy="196.00" r="1.5" fill="#8680cc" stroke="#12123a" stroke-width="0.85"/>
<circle cx="354.50" cy="199.80" r="1.5" fill="#8680cc" stroke="#12123a" stroke-width="0.85"/>
<path d="M354.9 161.7V191.2M350.6 161.7H359.2M349.2 177.5H360.2M352.2 191.2H357.8" stroke="#333" stroke-width="0.9" fill="none"/>
<circle cx="352.20" cy="163.00" r="1.5" fill="#8680cc" stroke="#12123a" stroke-width="0.85"/>
<circle cx="357.40" cy="162.20" r="1.5" fill="#8680cc" stroke="#12123a" stroke-width="0.85"/>
<circle cx="352.20" cy="168.30" r="1.5" fill="#8680cc" stroke="#12123a" stroke-width="0.85"/>
<circle cx="357.40" cy="166.00" r="1.5" fill="#8680cc" stroke="#12123a" stroke-width="0.85"/>
<circle cx="352.20" cy="178.80" r="1.5" fill="#8680cc" stroke="#12123a" stroke-width="0.85"/>
<circle cx="358.00" cy="177.50" r="1.5" fill="#8680cc" stroke="#12123a" stroke-width="0.85"/>
<text x="415.60" y="18.00" font-size="11.6" text-anchor="start" font-weight="bold" fill="#000" stroke="#000" stroke-width="0.35">F</text>
<circle cx="452" cy="42.75" r="17.8" fill="#c3cbc5"/>
<path d="M452 42.75L452.00 24.95A17.8 17.8 0 0 1 468.00 34.95Z" fill="#98aa9f"/>
<path d="M452.00 21.45A21.3 21.3 0 0 1 470.81 32.75" fill="none" stroke="#5aae3a" stroke-width="1.8"/>
<rect x="440.00" y="39.55" width="24" height="7.4" fill="#fff"/>
<text x="452.00" y="45.75" font-size="7.4" text-anchor="middle" font-weight="normal" fill="#1a1a1a" stroke="#1a1a1a" stroke-width="0.12">Control</text>
<circle cx="452" cy="89.75" r="17.8" fill="#c3cbc5"/>
<path d="M452 89.75L452.00 71.95A17.8 17.8 0 0 1 466.58 79.54Z" fill="#98aa9f"/>
<path d="M452.00 68.45A21.3 21.3 0 0 1 469.01 76.93" fill="none" stroke="#5aae3a" stroke-width="1.8"/>
<rect x="440.00" y="85.05" width="24" height="7.4" fill="#fff"/>
<text x="452.00" y="91.25" font-size="7.4" text-anchor="middle" font-weight="normal" fill="#1a1a1a" stroke="#1a1a1a" stroke-width="0.12">mbaIL6</text>
<path d="M450 152.7L450.00 134.90A17.8 17.8 0 0 1 465.86 144.62Z" fill="#356950"/>
<path d="M450 152.7L465.86 144.62A17.8 17.8 0 0 1 445.39 169.89Z" fill="#668874"/>
<path d="M450 152.7L445.39 169.89A17.8 17.8 0 0 1 435.24 142.75Z" fill="#98aa9f"/>
<path d="M450 152.7L435.24 142.75A17.8 17.8 0 0 1 450.00 134.90Z" fill="#c3cbc5"/>
<path d="M450.00 132.10A20.6 20.6 0 0 1 465.55 139.19" fill="none" stroke="#5aae3a" stroke-width="1.8"/>
<path d="M458.05 171.66A20.6 20.6 0 0 1 444.67 172.60" fill="none" stroke="#5aae3a" stroke-width="1.8"/>
<path d="M429.48 150.90A20.6 20.6 0 0 1 433.77 140.02" fill="none" stroke="#5aae3a" stroke-width="1.8"/>
<path d="M450.00 128.40A24.3 24.3 0 0 1 460.27 174.72" fill="none" stroke="#a50d2b" stroke-width="1.8"/>
<path d="M449.15 176.99A24.3 24.3 0 0 1 443.30 176.06" fill="none" stroke="#a50d2b" stroke-width="1.8"/>
<path d="M428.35 163.73A24.3 24.3 0 0 1 425.70 152.28" fill="none" stroke="#a50d2b" stroke-width="1.8"/>
<path d="M450.00 124.70A28 28 0 0 1 450.00 180.70" fill="none" stroke="#1c3478" stroke-width="1.8"/>
<path d="M441.81 179.48A28 28 0 0 1 425.51 166.27" fill="none" stroke="#1c3478" stroke-width="1.8"/>
<rect x="442.20" y="148.70" width="15.6" height="7.4" fill="#fff"/>
<text x="450.00" y="154.90" font-size="7.4" text-anchor="middle" font-weight="normal" fill="#1a1a1a" stroke="#1a1a1a" stroke-width="0.12">CAR</text>
<path d="M449.5 226.9L449.50 209.10A17.8 17.8 0 0 1 464.26 216.95Z" fill="#356950"/>
<path d="M449.5 226.9L464.26 216.95A17.8 17.8 0 0 1 450.12 244.69Z" fill="#668874"/>
<path d="M449.5 226.9L450.12 244.69A17.8 17.8 0 0 1 434.24 217.73Z" fill="#98aa9f"/>
<path d="M449.5 226.9L434.24 217.73A17.8 17.8 0 0 1 449.50 209.10Z" fill="#c3cbc5"/>
<path d="M449.50 206.30A20.6 20.6 0 0 1 465.28 213.66" fill="none" stroke="#5aae3a" stroke-width="1.8"/>
<path d="M464.07 241.47A20.6 20.6 0 0 1 449.14 247.50" fill="none" stroke="#5aae3a" stroke-width="1.8"/>
<path d="M429.28 230.83A20.6 20.6 0 0 1 433.49 213.94" fill="none" stroke="#5aae3a" stroke-width="1.8"/>
<path d="M449.50 202.60A24.3 24.3 0 0 1 467.56 243.16" fill="none" stroke="#a50d2b" stroke-width="1.8"/>
<path d="M452.88 250.96A24.3 24.3 0 0 1 448.65 251.19" fill="none" stroke="#a50d2b" stroke-width="1.8"/>
<path d="M431.73 243.47A24.3 24.3 0 0 1 425.82 232.37" fill="none" stroke="#a50d2b" stroke-width="1.8"/>
<path d="M449.50 198.90A28 28 0 0 1 454.36 254.47" fill="none" stroke="#1c3478" stroke-width="1.8"/>
<path d="M448.03 254.86A28 28 0 0 1 429.36 246.35" fill="none" stroke="#1c3478" stroke-width="1.8"/>
<rect x="439.75" y="222.00" width="19.5" height="7.4" fill="#fff"/>
<text x="449.50" y="228.20" font-size="7.4" text-anchor="middle" font-weight="normal" fill="#1a1a1a" stroke="#1a1a1a" stroke-width="0.12">DUAL</text>
<rect x="483.2" y="50.85" width="4.1" height="4.1" fill="#5aae3a"/>
<text x="490.20" y="55.20" font-size="7.45" text-anchor="start" font-weight="normal" fill="#1a1a1a" stroke="#1a1a1a" stroke-width="0.12">PD1</text>
<rect x="483.2" y="63.05" width="4.1" height="4.1" fill="#a50d2b"/>
<text x="490.20" y="67.40" font-size="7.45" text-anchor="start" font-weight="normal" fill="#1a1a1a" stroke="#1a1a1a" stroke-width="0.12">TIM3</text>
<rect x="483.2" y="75.25" width="4.1" height="4.1" fill="#1c3478"/>
<text x="490.20" y="79.60" font-size="7.45" text-anchor="start" font-weight="normal" fill="#1a1a1a" stroke="#1a1a1a" stroke-width="0.12">LAG3</text>
<text x="484.00" y="97.20" font-size="7.2" text-anchor="start" font-weight="normal" fill="#1a1a1a" stroke="#1a1a1a" stroke-width="0.12">Markers:</text>
<text x="493.10" y="108.70" font-size="7.4" text-anchor="end" font-weight="normal" fill="#1a1a1a" stroke="#1a1a1a" stroke-width="0.12">0</text>
<rect x="492.9" y="105.25" width="5.3" height="1.7" fill="#555"/>
<rect x="499.1" y="103.90" width="4.5" height="4.4" fill="#c6d3c8"/>
<text x="493.10" y="120.50" font-size="7.4" text-anchor="end" font-weight="normal" fill="#1a1a1a" stroke="#1a1a1a" stroke-width="0.12">1</text>
<rect x="492.9" y="117.05" width="5.3" height="1.7" fill="#555"/>
<rect x="499.1" y="115.70" width="4.5" height="4.4" fill="#8fab98"/>
<text x="493.10" y="132.30" font-size="7.4" text-anchor="end" font-weight="normal" fill="#1a1a1a" stroke="#1a1a1a" stroke-width="0.12">2</text>
<rect x="492.9" y="128.85" width="5.3" height="1.7" fill="#555"/>
<rect x="499.1" y="127.50" width="4.5" height="4.4" fill="#3f7152"/>
<text x="493.10" y="144.00" font-size="7.4" text-anchor="end" font-weight="normal" fill="#1a1a1a" stroke="#1a1a1a" stroke-width="0.12">3</text>
<rect x="492.9" y="140.55" width="5.3" height="1.7" fill="#555"/>
<rect x="499.1" y="139.20" width="4.5" height="4.4" fill="#1f5334"/>
<rect x="0.5" y="0.5" width="519" height="262" fill="none" stroke="#000" stroke-width="1.2"/>
</svg>
</body></html>
